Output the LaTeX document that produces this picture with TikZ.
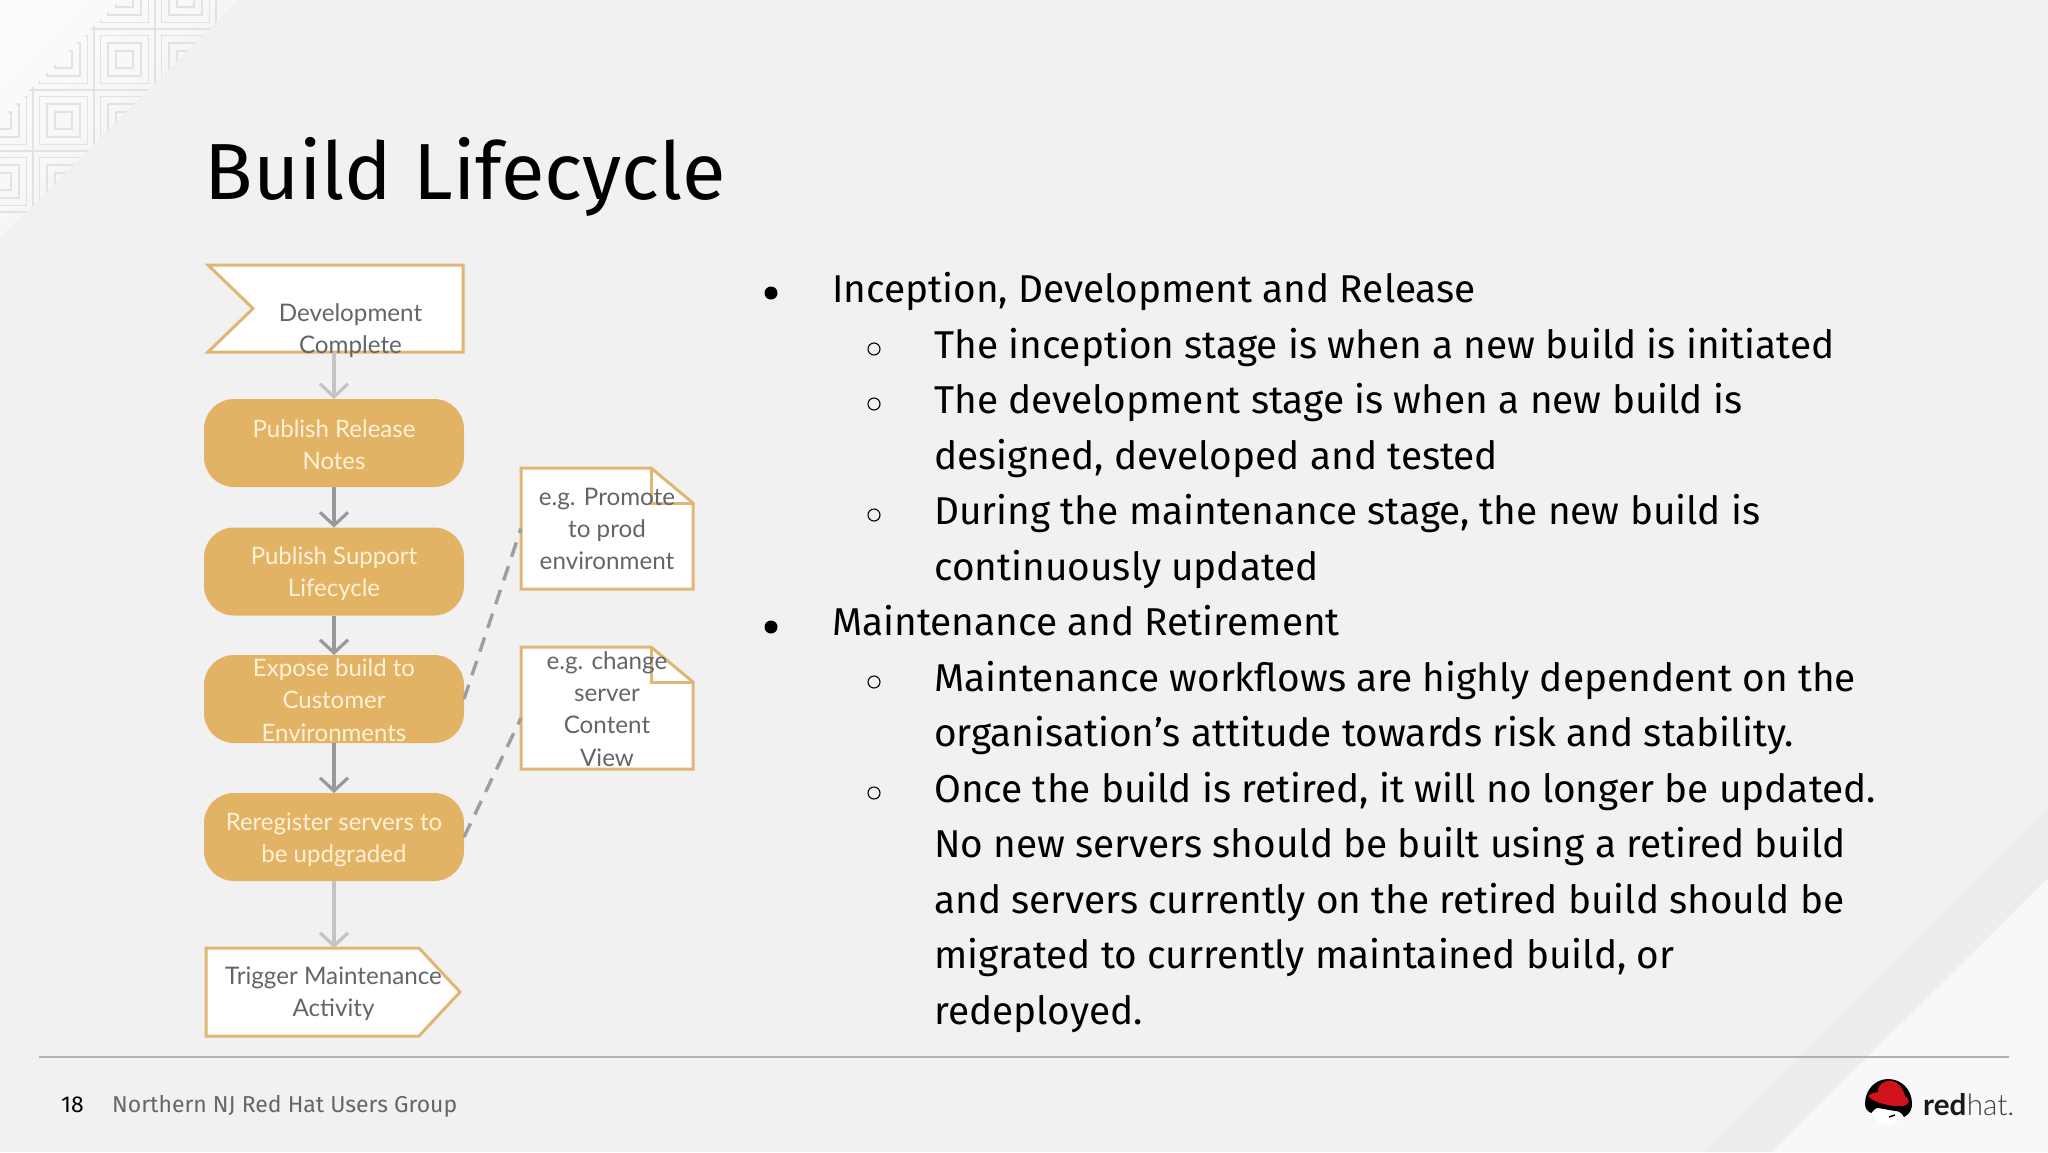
\documentclass[tikz,border=0pt]{standalone}
\usepackage{fontspec}
\setmainfont{Fira Sans}
\newfontfamily\boxfont{Lato}
\newfontfamily\hatfont{Lato}[UprightFont=* Light]
\usetikzlibrary{arrows.meta,shapes.symbols,calc}
\definecolor{pagebg}{HTML}{F1F1F2}
\definecolor{cornerlight}{HTML}{FBFBFB}
\definecolor{bandgrey}{HTML}{EDEDEF}
\definecolor{lightgrey}{HTML}{F8F8FA}
\definecolor{tilegrey}{HTML}{E2E2E3}
\definecolor{boxgold}{HTML}{E0B674}
\definecolor{pillgold}{HTML}{E3B365}
\definecolor{pilltext}{HTML}{FDF1D6}
\definecolor{boxtextgrey}{HTML}{62656A}
\definecolor{footgrey}{HTML}{666666}
\definecolor{hatred}{HTML}{D1121B}
\tikzset{
  pillbox/.style={rectangle, rounded corners=30pt, fill=pillgold, minimum width=260pt, minimum height=88pt, inner sep=0pt, outer sep=0pt},
  startbox/.style={signal, signal to=nowhere, signal from=west, signal pointer angle=88, draw=boxgold, line width=3pt, fill=white, minimum width=255pt, minimum height=87pt, inner sep=0pt, outer sep=0pt},
  endbox/.style={signal, signal to=east, signal from=nowhere, signal pointer angle=94, draw=boxgold, line width=3pt, fill=white, minimum width=254pt, minimum height=88pt, inner sep=0pt, outer sep=0pt},
  notebox/.style={rectangle, minimum width=172pt, inner sep=0pt, outer sep=0pt},
  noteline/.style={draw=boxgold, line width=3pt, fill=white, line join=miter},
  boxtext/.style={text=boxtextgrey, align=center, inner sep=0pt, font=\boxfont\fontsize{24.2}{32.3}\selectfont},
  pilltxt/.style={text=pilltext, align=center, inner sep=0pt, font=\boxfont\fontsize{24}{32.3}\selectfont},
  flow/.style={draw=#1, line width=3.4pt, -{Straight Barb[length=13pt,width=28pt,line width=3.2pt]}},
  notelink/.style={draw=#1, line width=3.4pt, dash pattern=on 15pt off 10pt},
  mainline/.style={anchor=base west, inner sep=0pt, font=\fontsize{38.8}{39}\selectfont, text=black},
  roundbullet/.style={circle, fill=black, inner sep=0pt, minimum size=13pt},
  ringbullet/.style={circle, draw=black, line width=1.1pt, inner sep=0pt, minimum size=12pt}
}
\begin{document}
\begin{tikzpicture}[x=1pt, y=-1pt]
  \useasboundingbox (0,0) rectangle (2048,1152);
  % page background
  \fill[pagebg] (0,0) rectangle (2048,1152);
  \shade[shading=axis, top color=cornerlight, middle color=pagebg, bottom color=pagebg, shading angle=45] (0,0) -- (238,0) -- (0,238) -- cycle;
  \fill[bandgrey] (2048,807) -- (2048,878) -- (1772,1152) -- (1703,1152) -- cycle;
  \fill[lightgrey] (2048,878) -- (2048,1152) -- (1772,1152) -- cycle;
  % corner tiles
  \begin{scope}
    \clip (120,0) -- (238,0) -- (0,238) -- (0,120) -- cycle;
    \foreach \i in {-1,...,3} {
      \foreach \j in {-1,...,3} {
        \foreach \d in {0,6.5,14,22} {
          \draw[tilegrey, line width=1.2pt] ({-28+61*\i+\d},{-32+61*\j+\d}) rectangle ({33+61*\i-\d},{29+61*\j-\d});
        }
      }
    }
  \end{scope}
  % title
  \node[anchor=base west, inner sep=0pt, font=\fontsize{79.6}{80}\selectfont] (title) at (204.5,199) {Build Lifecycle};
  % flow
  \node[startbox, anchor=east] (devdone) at (463,308.5) {};
  \node[pillbox] (relnotes) at (334,443) {};
  \node[pillbox] (suplife) at (334,571.5) {};
  \node[pillbox] (expose) at (334,699) {};
  \node[pillbox] (rereg) at (334,837) {};
  \node[endbox, anchor=west] (trigger) at (206,992) {};
  \draw[flow=black!23] (relnotes.north |- devdone.south) -- (relnotes.north);
  \draw[flow=black!40] (relnotes.south) -- (suplife.north);
  \draw[flow=black!40] (suplife.south) -- (expose.north);
  \draw[flow=black!40] (expose.south) -- (rereg.north);
  \draw[flow=black!23] (rereg.south) -- (rereg.south |- trigger.north);
  \node[boxtext] (devtext) at (350.5,331) {Development\\Complete};
  \node[pilltxt] (relnotestext) at (334,445) {Publish Release\\Notes};
  \node[pilltxt] (suplifetext) at (334,574) {Publish Support\\Lifecycle};
  \node[pilltxt] (exposetext) at (334,700) {Expose build to\\Customer\\Environments};
  \node[pilltxt] (reregtext) at (334,840) {Reregister servers to\\be updgraded};
  \node[boxtext] (triggertext) at (333.5,994) {Trigger Maintenance\\Activity};
  % notes
  \node[notebox, minimum height=121pt] (promote) at (607,528.5) {};
  \node[notebox, minimum height=122pt] (change) at (607,708) {};
  \foreach \n in {promote,change} {
    \draw[noteline] (\n.north west) -- ($(\n.north east)+(-42,0)$) -- ($(\n.north east)+(0,35)$) -- (\n.south east) -- (\n.south west) -- cycle;
    \draw[boxgold, line width=3pt] ($(\n.north east)+(-42,0)$) -- ($(\n.north east)+(-42,35)$) -- ($(\n.north east)+(0,35)$);
  }
  \node[boxtext] (promotetext) at (607,529) {e.g. Promote\\to prod\\environment};
  \node[boxtext] (changetext) at (607,709) {e.g. change\\server\\Content\\View};
  \draw[notelink=black!38] (expose.east) -- (promote.west);
  \draw[notelink=black!38] (rereg.east) -- ([yshift=-10pt]change.west);
  % text on the right
  \node[roundbullet] (b1) at (771,293) {};
  \node[ringbullet] (b2) at (874,349) {};
  \node[ringbullet] (b3) at (874,404) {};
  \node[ringbullet] (b4) at (874,515) {};
  \node[roundbullet] (b5) at (771,627) {};
  \node[ringbullet] (b6) at (874,682) {};
  \node[ringbullet] (b7) at (874,793) {};
  \node[mainline] (l1) at (832,302) {Inception, Development and Release};
  \node[mainline] (l2) at (934,358) {The inception stage is when a new build is initiated};
  \node[mainline] (l3) at (934,413) {The development stage is when a new build is};
  \node[mainline] (l4) at (934,469) {designed, developed and tested};
  \node[mainline] (l5) at (934,524) {During the maintenance stage, the new build is};
  \node[mainline] (l6) at (934,580) {continuously updated};
  \node[mainline] (l7) at (832,635) {Maintenance and Retirement};
  \node[mainline] (l8) at (934,691) {Maintenance workflows are highly dependent on the};
  \node[mainline] (l9) at (934,746) {organisation’s attitude towards risk and stability.};
  \node[mainline] (l10) at (934,802) {Once the build is retired, it will no longer be updated.};
  \node[mainline] (l11) at (934,857) {No new servers should be built using a retired build};
  \node[mainline] (l12) at (934,913) {and servers currently on the retired build should be};
  \node[mainline] (l13) at (934,968) {migrated to currently maintained build, or};
  \node[mainline] (l14) at (934,1024) {redeployed.};
  % footer
  \draw[black!30, line width=1.5pt] (39,1057) -- (2009,1057);
  \node[anchor=base west, inner sep=0pt, font=\fontsize{23}{23}\selectfont] (pagenum) at (61,1112) {18};
  \node[anchor=base west, inner sep=0pt, text=footgrey, font=\fontsize{23}{23}\selectfont] (group) at (112,1112) {Northern NJ Red Hat Users Group};
  % logo
  \fill[white] (1871,1106) .. controls (1880,1106) and (1898,1110) .. (1906,1108) .. controls (1904,1118) and (1895,1125) .. (1886,1125) .. controls (1878,1125) and (1872,1116) .. (1871,1106) -- cycle;
  \fill[black] (1865,1104) .. controls (1865,1089) and (1876,1079) .. (1888,1079) .. controls (1901,1079) and (1912,1089) .. (1912,1104) .. controls (1912,1109) and (1910,1114) .. (1904,1117) .. controls (1902,1113) and (1899,1111) .. (1895,1111) -- (1878,1108) .. controls (1874,1108) and (1873,1112) .. (1871,1113) .. controls (1867,1111) and (1865,1108) .. (1865,1104) -- cycle;
  \fill[hatred] (1868,1096) .. controls (1872,1093) and (1875,1092) .. (1878,1092) .. controls (1877,1085) and (1884,1080) .. (1892,1081) .. controls (1898,1082) and (1903,1088) .. (1905,1096) .. controls (1911,1099) and (1910,1105) .. (1902,1106) .. controls (1892,1107) and (1874,1103) .. (1868,1096) -- cycle;
  \draw[black, line width=1.5pt] (1889,1117) -- (1895,1115);
  \node[anchor=base west, inner sep=0pt, font=\boxfont\bfseries\fontsize{29.6}{30}\selectfont, text=black!90] (redword) at (1923,1115) {red};
  \node[anchor=base west, inner sep=0pt, font=\hatfont\fontsize{29.6}{30}\selectfont, text=black!75] (hatword) at (redword.base east) {hat.};
\end{tikzpicture}
\end{document}
